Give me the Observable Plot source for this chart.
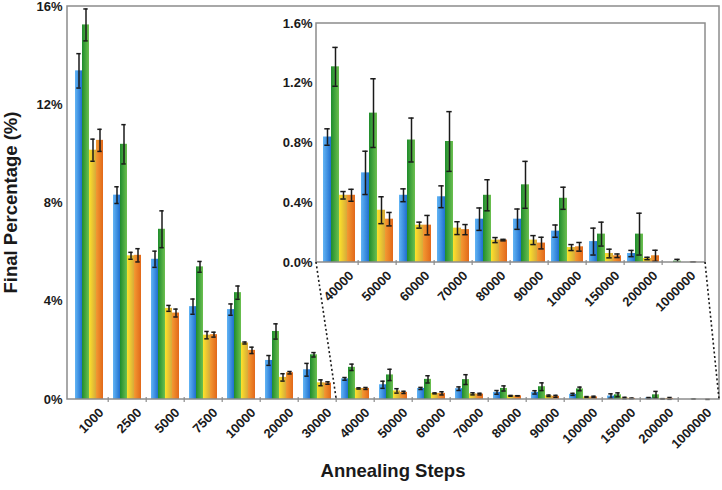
<!DOCTYPE html>
<html><head><meta charset="utf-8">
<script src="https://cdn.jsdelivr.net/npm/d3@7"></script>
<script src="https://cdn.jsdelivr.net/npm/@observablehq/plot@0.6"></script>
<style>
body{margin:0;background:#fff;}
#wrap{position:relative;width:722px;height:490px;background:#fff;}
#wrap svg{position:absolute;left:0;top:0;}
</style></head><body>
<svg width="0" height="0" style="position:absolute">
<defs>
<linearGradient id="gBlue" x1="0" x2="1" y1="0" y2="0"><stop offset="0" stop-color="#62b5f5"/><stop offset="1" stop-color="#1f6fcf"/></linearGradient>
<linearGradient id="gGreen" x1="0" x2="1" y1="0" y2="0"><stop offset="0" stop-color="#1f8c2c"/><stop offset="1" stop-color="#6cc050"/></linearGradient>
<linearGradient id="gYellow" x1="0" x2="1" y1="0" y2="0"><stop offset="0" stop-color="#fde32a"/><stop offset="1" stop-color="#d7a93a"/></linearGradient>
<linearGradient id="gOrange" x1="0" x2="1" y1="0" y2="0"><stop offset="0" stop-color="#f39a32"/><stop offset="1" stop-color="#e2681a"/></linearGradient>
</defs></svg>
<div id="wrap"></div>
<script>
// ---- data ----
const categories = ["1000","2500","5000","7500","10000","20000","30000","40000","50000","60000","70000","80000","90000","100000","150000","200000","1000000"];
const insetCategories = categories.slice(7);
const seriesNames = ["Series 1","Series 2","Series 3","Series 4"];
const seriesFills = ["url(#gBlue)","url(#gGreen)","url(#gYellow)","url(#gOrange)"];

const blueValues   = [13.38, 8.32, 5.71, 3.78, 3.66, 1.59, 1.21, 0.84, 0.60, 0.45, 0.44, 0.29, 0.29, 0.21, 0.14, 0.06, 0.00];
const blueErrors   = [0.70, 0.34, 0.33, 0.31, 0.23, 0.20, 0.26, 0.055, 0.145, 0.043, 0.073, 0.075, 0.068, 0.041, 0.09, 0.021, 0];
const greenValues  = [15.25, 10.39, 6.93, 5.40, 4.35, 2.77, 1.82, 1.31, 1.00, 0.82, 0.81, 0.45, 0.52, 0.43, 0.19, 0.19, 0.009];
const greenErrors  = [0.65, 0.80, 0.75, 0.22, 0.27, 0.31, 0.09, 0.13, 0.23, 0.147, 0.20, 0.104, 0.157, 0.074, 0.08, 0.14, 0.012];
const yellowValues = [10.15, 5.85, 3.71, 2.62, 2.30, 0.90, 0.68, 0.45, 0.35, 0.25, 0.23, 0.15, 0.15, 0.10, 0.06, 0.027, 0];
const yellowErrors = [0.45, 0.14, 0.12, 0.15, 0.04, 0.15, 0.12, 0.025, 0.09, 0.02, 0.043, 0.017, 0.03, 0.02, 0.029, 0.008, 0];
const orangeValues = [10.55, 5.87, 3.52, 2.64, 2.00, 1.09, 0.67, 0.45, 0.29, 0.25, 0.22, 0.15, 0.13, 0.105, 0.045, 0.045, 0.002];
const orangeErrors = [0.45, 0.27, 0.16, 0.10, 0.13, 0.05, 0.05, 0.04, 0.045, 0.065, 0.034, 0.005, 0.039, 0.029, 0.012, 0.037, 0.002];

const mainTicks = [0, 4, 8, 12, 16];
const insetTicks = [0, 0.4, 0.8, 1.2, 1.6];
const xTitle = "Annealing Steps";
const yTitle = "Final Percentage (%)";

// ---- build rows ----
const allValues = [blueValues, greenValues, yellowValues, orangeValues];
const allErrors = [blueErrors, greenErrors, yellowErrors, orangeErrors];
const rows = [];
categories.forEach((c, i) => seriesNames.forEach((s, k) => rows.push({cat: c, series: s, value: allValues[k][i], err: allErrors[k][i]})));
const insetRows = rows.filter(d => insetCategories.includes(d.cat));

const W = 722, H = 490;
const baseStyle = {fontFamily: "'Liberation Sans', Arial, Helvetica, sans-serif", fontSize: "13px", fontWeight: "bold", color: "#1a1a1a", background: "transparent", overflow: "visible"};

function makeMarks(data) {
  return [
    Plot.barY(data, {x: "series", y: "value", fill: "series"}),
    Plot.ruleX(data, {filter: d => d.err > 0, x: "series", y1: d => Math.max(0, d.value - d.err), y2: d => d.value + d.err, stroke: "#1a1a1a", strokeWidth: 1.5}),
    Plot.tickY(data, {filter: d => d.err > 0, x: "series", y: d => d.value + d.err, stroke: "#1a1a1a", strokeWidth: 1.5, insetLeft: 1.3, insetRight: 1.3}),
    Plot.tickY(data, {filter: d => d.err > 0 && d.value - d.err > 0, x: "series", y: d => d.value - d.err, stroke: "#1a1a1a", strokeWidth: 1.5, insetLeft: 1.3, insetRight: 1.3})
  ];
}

const main = Plot.plot({
  width: W, height: H,
  marginLeft: 67, marginRight: 3, marginTop: 6, marginBottom: 91,
  style: baseStyle,
  facet: {data: rows, x: "cat"},
  fx: {domain: categories, paddingInner: 0.2, paddingOuter: 0.1, axis: "bottom", tickRotate: -45, tickSize: 0, tickPadding: 6, label: null},
  x: {domain: seriesNames, padding: 0, axis: null},
  y: {domain: [0, 16], ticks: mainTicks, tickFormat: d => d + "%", tickSize: 0, tickPadding: 12, label: null},
  color: {type: "ordinal", domain: seriesNames, range: seriesFills},
  marks: makeMarks(rows)
});

const inset = Plot.plot({
  width: W, height: H,
  marginLeft: 316, marginRight: 17, marginTop: 23, marginBottom: 228,
  style: baseStyle,
  facet: {data: insetRows, x: "cat"},
  fx: {domain: insetCategories, paddingInner: 0.15, paddingOuter: 0.075, axis: "bottom", tickRotate: -45, tickSize: 0, tickPadding: 6, label: null},
  x: {domain: seriesNames, padding: 0, axis: null},
  y: {domain: [0, 1.6], ticks: insetTicks, tickFormat: d => d.toFixed(1) + "%", tickSize: 0, tickPadding: 11, label: null},
  color: {type: "ordinal", domain: seriesNames, range: seriesFills},
  marks: makeMarks(insetRows)
});

// shift the rotated category labels so their ends sit right of the band centre, as in the original
function shiftFxLabels(svg, dx, dy) {
  const els = Array.from(svg.querySelectorAll('[aria-label^="fx-axis"]'))
    .filter(el => el.querySelector("text") && !(el.parentElement && el.parentElement.closest('[aria-label^="fx-axis"]')));
  els.forEach(el => {
    const t = el.getAttribute("transform") || "";
    el.setAttribute("transform", `translate(${dx},${dy}) ${t}`);
  });
}
shiftFxLabels(main, 12, 5);
shiftFxLabels(inset, 12, 5);

const wrap = document.getElementById("wrap");
wrap.appendChild(main);
wrap.appendChild(inset);

// ---- overlay: frames, category ticks, zoom connectors, axis titles ----
const ov = d3.select(wrap).append("svg").attr("width", W).attr("height", H).style("pointer-events", "none");
function frameInfo(p) {
  const fx = p.scale("fx"), y = p.scale("y");
  const [r0, r1] = fx.range;
  const step = fx.step || fx.bandwidth / (1 - fx.paddingInner);
  return {x0: r0, x1: r1, yTop: y.apply(y.domain[1]), yBot: y.apply(y.domain[0]), step, fx};
}
const mf = frameInfo(main), inf = frameInfo(inset);
[mf, inf].forEach(f => {
  ov.append("rect").attr("x", f.x0).attr("y", f.yTop).attr("width", f.x1 - f.x0).attr("height", f.yBot - f.yTop)
    .attr("fill", "none").attr("stroke", "#8c8c8c").attr("stroke-width", 1.5);
  for (let i = 1; i < f.fx.domain.length; i++) {
    const bx = f.fx.apply(f.fx.domain[i]) - f.step * f.fx.paddingInner / 2;
    ov.append("line").attr("x1", bx).attr("x2", bx).attr("y1", f.yBot - 2).attr("y2", f.yBot + 3).attr("stroke", "#8c8c8c").attr("stroke-width", 1.2);
  }
});
const leftJoin = mf.fx.apply(insetCategories[0]) - mf.step * mf.fx.paddingInner / 2;
ov.append("line").attr("x1", inf.x0).attr("y1", inf.yBot).attr("x2", leftJoin).attr("y2", mf.yBot)
  .attr("stroke", "#1a1a1a").attr("stroke-width", 1.6).attr("stroke-dasharray", "2,2.5");
ov.append("line").attr("x1", inf.x1).attr("y1", inf.yBot).attr("x2", mf.x1).attr("y2", mf.yBot)
  .attr("stroke", "#1a1a1a").attr("stroke-width", 1.6).attr("stroke-dasharray", "2,2.5");

ov.append("text").text(xTitle).attr("x", (mf.x0 + mf.x1) / 2).attr("y", 477).attr("text-anchor", "middle")
  .attr("font-family", baseStyle.fontFamily).attr("font-size", 18.5).attr("font-weight", "bold").attr("fill", "#1a1a1a");
ov.append("text").text(yTitle).attr("transform", `translate(17,${(mf.yTop + mf.yBot) / 2}) rotate(-90)`).attr("text-anchor", "middle")
  .attr("font-family", baseStyle.fontFamily).attr("font-size", 18.5).attr("font-weight", "bold").attr("fill", "#1a1a1a");
</script>
</body></html>
